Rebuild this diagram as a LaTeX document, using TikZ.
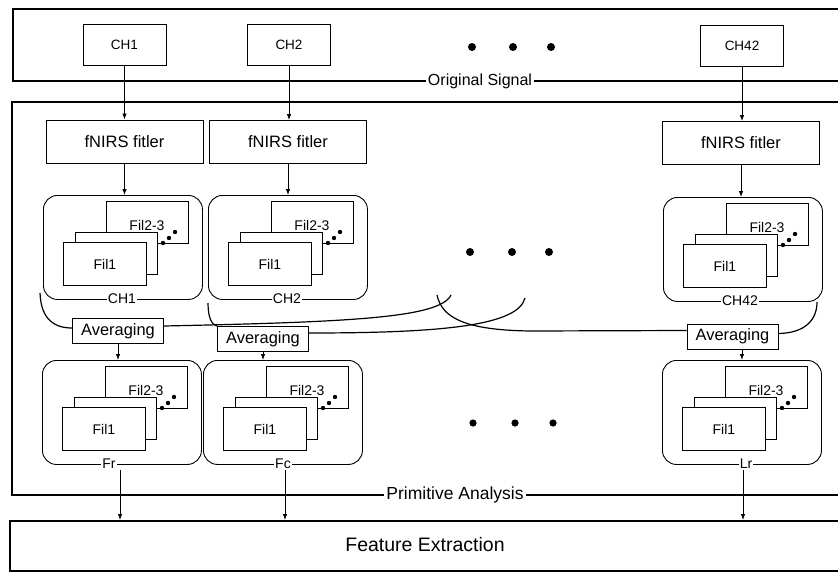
\documentclass[tikz,border=0pt]{standalone}
\usepackage{fontspec}
\setmainfont{Liberation Sans}
\usetikzlibrary{arrows.meta,calc}
\newcommand{\fsz}[1]{\fontsize{#1}{#1}\selectfont}
% name, left x, top y, label, label x
\newcommand{\filgroup}[5]{%
  \node[grp, anchor=north west] (#1) at (#2,#3) {};
  \node[sheet, anchor=north west] (#1-b) at ($(#1.north west)+(63,6)$) {};
  \node[filtxt] (#1-bt) at ($(#1.north west)+(104,30)$) {Fil2-3};
  \node[sheet, anchor=north west] (#1-m) at ($(#1.north west)+(32,37)$) {};
  \node[sheet, anchor=north west, minimum width=83, minimum height=43] (#1-f) at ($(#1.north west)+(20,47)$) {};
  \node[filtxt] (#1-ft) at (#1-f.center) {Fil1};
  \fill ($(#1.north west)+(120,48)$) circle (2.2);
  \fill ($(#1.north west)+(126,43)$) circle (2.2);
  \fill ($(#1.north west)+(132,37)$) circle (2.2);
  \node[glbl] (#1-l) at (#5,#3+104) {#4};
}
\begin{document}
\begin{tikzpicture}[x=1pt,y=-1pt,
  frame/.style={draw, line width=2.4pt},
  chbox/.style={draw, line width=0.9pt, minimum width=83, minimum height=41, font=\fsz{13.5}},
  filt/.style={draw, line width=0.9pt, minimum width=157, minimum height=43, font=\fsz{16.5}},
  grp/.style={draw, line width=0.9pt, rounded corners=14, minimum width=159, minimum height=104},
  sheet/.style={draw, line width=0.9pt, fill=white, minimum width=82, minimum height=42},
  filtxt/.style={inner sep=0pt, font=\fsz{14}},
  glbl/.style={fill=white, inner sep=1pt, font=\fsz{14}},
  avg/.style={draw, line width=0.9pt, fill=white, minimum width=91, minimum height=25, inner sep=1pt, font=\fsz{16.4}},
  flbl/.style={fill=white, inner sep=2pt},
  arr/.style={-{Latex[length=6pt,width=4.5pt]}, line width=0.8pt},
  brace/.style={line width=1.2pt}]
\useasboundingbox (0,0) rectangle (838,573);

% frames
\draw[frame] (13,9) rectangle (852,81);
\draw[frame] (12,102) rectangle (852,495);
\node[frame, anchor=north west, minimum width=840, minimum height=50] (feat) at (9,520) {};
\node[font=\fsz{19.5}] (featt) at (425,545) {Feature Extraction};
\node[flbl, font=\fsz{16}] (orig) at (480,81) {Original Signal};
\node[flbl, font=\fsz{17.5}] (prim) at (455,495) {Primitive Analysis};

% channels
\node[chbox] (ch1) at (124.5,44.5) {CH1};
\node[chbox] (ch2) at (289,44.5) {CH2};
\node[chbox] (ch42) at (742,46) {CH42};
\foreach \x in {472,513,551} \fill (\x,47) circle (4);

% filters
\node[filt] (f1) at (124.5,141.5) {fNIRS fitler};
\node[filt] (f2) at (288,142) {fNIRS fitler};
\node[filt] (f3) at (741,143) {fNIRS fitler};
\draw[arr] (ch1.south) -- (ch1.south |- f1.north);
\draw[arr] (ch2.south) -- (ch2.south |- f2.north);
\draw[arr] (ch42.south) -- (ch42.south |- f3.north);

% filter groups
\filgroup{g1}{43}{195}{CH1}{122}
\filgroup{g2}{208}{195}{CH2}{287}
\filgroup{g3}{663}{197}{CH42}{740}
\foreach \x in {470,512,549} \fill (\x,252) circle (4);
\draw[arr] (f1.south) -- (f1.south |- g1.north);
\draw[arr] (f2.south) -- (f2.south |- g2.north);
\draw[arr] (f3.south) -- (f3.south |- g3.north);

% averaging braces
\coordinate (b1a) at (40,293);
\coordinate (b1b) at (451,295);
\coordinate (b2a) at (208,303);
\coordinate (b2b) at (525,298);
\coordinate (b3a) at (437,295);
\coordinate (b3b) at (817,302);
\node[avg] (avg1) at (118,331) {Averaging};
\node[avg] (avg2) at (263,339) {Averaging};
\node[avg] (avg3) at (732.5,336.5) {Averaging};
\draw[brace] (b1a) .. controls (41,320) and (55,328) .. ([yshift=3pt]avg1.west);
\draw[brace] ([yshift=5pt]avg1.east) .. controls (350,322) and (440,318) .. (b1b);
\draw[brace] (b2a) .. controls (208,318) and (212,325) .. (avg2.north west);
\draw[brace] ([yshift=6pt]avg2.east) .. controls (440,333) and (518,326) .. (b2b);
\draw[brace] (b3a) .. controls (442,318) and (465,330) .. (530,331) -- ([yshift=6pt]avg3.west);
\draw[brace] ([yshift=3pt]avg3.east) .. controls (805,333) and (817,320) .. (b3b);
\node[avg] at (avg1) {Averaging};
\node[avg] at (avg2) {Averaging};
\node[avg] at (avg3) {Averaging};

% result groups
\filgroup{fr}{42}{360}{Fr}{109}
\filgroup{fc}{203}{360}{Fc}{283}
\filgroup{lr}{662}{360}{Lr}{746}
\foreach \x in {473,515,553} \fill (\x,423) circle (3.6);
\draw[arr] (avg1.south) -- (avg1.south |- fr.north);
\draw[arr] (avg2.south) -- (avg2.south |- fc.north);
\draw[arr] (avg3.south -| lr.north) -- (lr.north);

% to feature extraction
\coordinate (fro) at (120,470);
\coordinate (fco) at (285,470);
\coordinate (lro) at (743,470);
\draw[arr] (fro) -- (fro |- feat.north);
\draw[arr] (fco) -- (fco |- feat.north);
\draw[arr] (lro) -- (lro |- feat.north);
\end{tikzpicture}
\end{document}
